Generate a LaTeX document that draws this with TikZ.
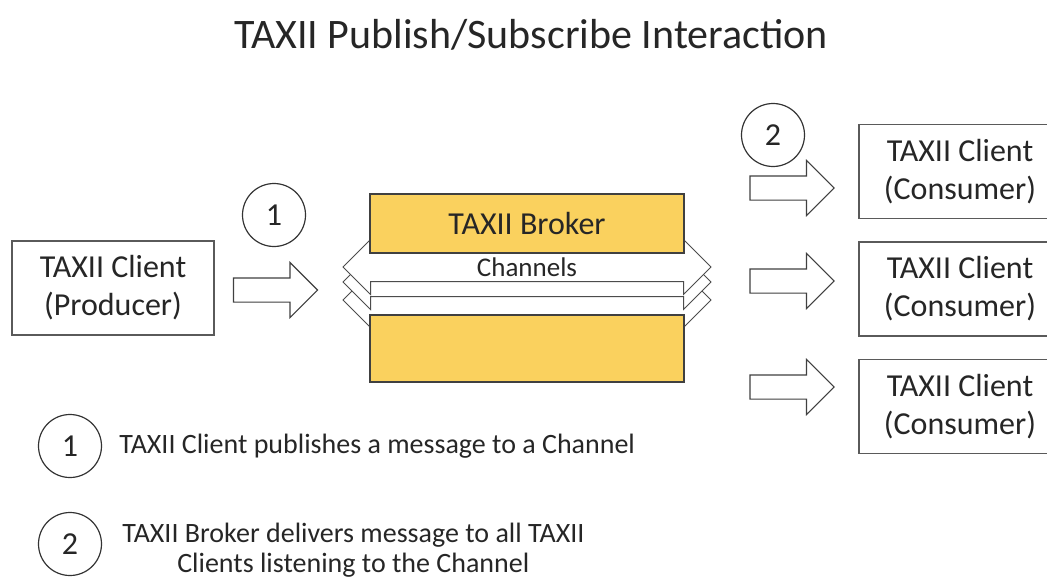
\documentclass[tikz,border=0pt]{standalone}
\usepackage{fontspec}
\setmainfont{Carlito}
\usepackage{tikz}
\usetikzlibrary{shapes.arrows, positioning}
\definecolor{brokeryellow}{HTML}{FAD15E}
\definecolor{inkgray}{HTML}{262626}
\definecolor{edgegray}{HTML}{5A5A5A}

\begin{document}
\begin{tikzpicture}[
    x=1pt, y=-1pt,
    node distance=22pt,
    every node/.style={text=inkgray},
    client/.style={rectangle, draw=edgegray, line width=1.5pt, fill=white, minimum width=202pt, minimum height=94pt, align=center, font=\fontsize{32}{38}\selectfont},
    broker/.style={rectangle, draw=black!75, line width=1.2pt, fill=brokeryellow, minimum width=314pt, font=\fontsize{32}{38}\selectfont},
    channel/.style={double arrow, draw=black!70, line width=1pt, fill=white, minimum height=368pt, minimum width=54pt, inner xsep=0pt, inner ysep=14pt, double arrow head extend=13pt},
    push/.style={single arrow, draw=black!75, line width=1.1pt, fill=white, minimum height=84pt, minimum width=54pt, inner xsep=0pt, inner ysep=11.5pt, single arrow head extend=15.5pt},
    numcirc/.style={circle, draw=black!80, line width=1.2pt, minimum size=63pt, inner sep=0pt, font=\fontsize{32}{34}\selectfont},
    legend/.style={align=center, inner sep=0pt, font=\fontsize{28}{30}\selectfont},
]
\useasboundingbox (0,0) rectangle (1047,578);

\node[font=\fontsize{42}{50}\selectfont, anchor=base] (title) at (531,49) {TAXII Publish/Subscribe Interaction};

\node[client] (producer) at (113,288) {TAXII Client\\(Producer)};
\node[push] (publish) at (269.5,290) {};
\node[numcirc] (pubnum) at (274,215) {1};

% channels sit behind the broker boxes
\node[channel] (chanC) at (527,300) {};
\node[channel] (chanB) at (527,282) {};
\node[channel] (chanA) at (527,267) {};
\node[broker, minimum height=59pt] (broker) at (527,223.5) {TAXII Broker};
\node[broker, minimum height=67pt] (brokerbase) at (527,348.5) {};
\node[font=\fontsize{27}{30}\selectfont, inner sep=0pt] (chanlabel) at (527,267) {Channels};

\node[client] (cons1) at (960,171.5) {TAXII Client\\(Consumer)};
\node[client, below=of cons1] (cons2) {TAXII Client\\(Consumer)};
\node[client, below=of cons2] (cons3) {TAXII Client\\(Consumer)};

\node[push] (deliver1) at (786,188) {};
\node[push] (deliver2) at (786,281) {};
\node[push] (deliver3) at (786,387) {};
\node[numcirc] (delnum) at (773,135) {2};

\node[numcirc] (leg1) at (70,446) {1};
\node[legend, right=17pt of leg1] (legtext1) {TAXII Client publishes a message to a Channel};
\node[numcirc] (leg2) at (70,544) {2};
\node[legend, right=20pt of leg2, yshift=-6pt] (legtext2) {TAXII Broker delivers message to all TAXII\\Clients listening to the Channel};

\end{tikzpicture}
\end{document}
